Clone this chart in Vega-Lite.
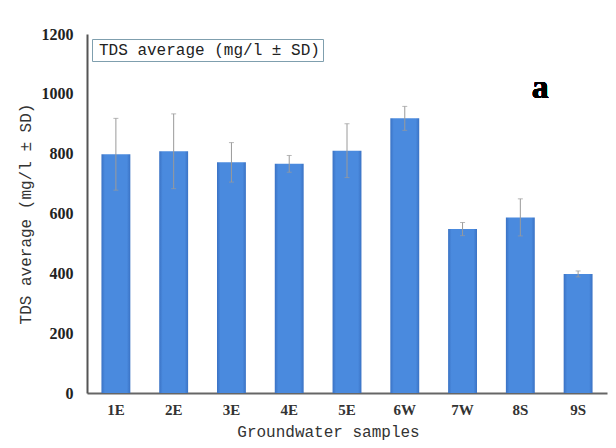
{
  "$schema": "https://vega.github.io/schema/vega-lite/v6.json",
  "width": 520,
  "height": 359,
  "autosize": "none",
  "padding": {"left": 87, "top": 34, "right": 9, "bottom": 55},
  "background": "#ffffff",
  "config": {
    "view": {"stroke": null},
    "axis": {"grid": false, "ticks": false}
  },
  "data": {
    "values": [
      {"sample": "1E", "tds": 798, "sd": 120},
      {"sample": "2E", "tds": 808, "sd": 125},
      {"sample": "3E", "tds": 771, "sd": 66},
      {"sample": "4E", "tds": 766, "sd": 28},
      {"sample": "5E", "tds": 810, "sd": 90},
      {"sample": "6W", "tds": 918, "sd": 40},
      {"sample": "7W", "tds": 548, "sd": 22},
      {"sample": "8S", "tds": 587, "sd": 62},
      {"sample": "9S", "tds": 398, "sd": 10}
    ]
  },
  "encoding": {
    "x": {
      "field": "sample",
      "type": "nominal",
      "sort": null,
      "scale": {"paddingInner": 0.5, "paddingOuter": 0.25},
      "axis": {
        "title": "Groundwater samples",
        "titleFont": "Liberation Mono",
        "titleFontSize": 16,
        "titleFontWeight": "normal",
        "titleColor": "#333333",
        "titlePadding": 6,
        "titleX": 241,
        "labelAngle": 0,
        "labelFont": "Liberation Serif",
        "labelFontWeight": "bold",
        "labelFontSize": 15,
        "labelColor": "#333333",
        "labelPadding": 9,
        "domainColor": "#666666",
        "domainWidth": 2
      }
    }
  },
  "layer": [
    {
      "mark": {
        "type": "bar",
        "color": {
          "gradient": "linear",
          "x1": 0, "x2": 1, "y1": 0, "y2": 0,
          "stops": [
            {"offset": 0, "color": "#3a72c4"},
            {"offset": 0.12, "color": "#4a8ade"},
            {"offset": 0.88, "color": "#4a8ade"},
            {"offset": 1, "color": "#3a72c4"}
          ]
        }
      },
      "encoding": {
        "y": {
          "field": "tds",
          "type": "quantitative",
          "title": "TDS average (mg/l ± SD)",
          "scale": {"domain": [0, 1200]},
          "axis": {
            "values": [0, 200, 400, 600, 800, 1000, 1200],
            "format": "d",
            "titleFont": "Liberation Mono",
            "titleFontSize": 16,
            "titleFontWeight": "normal",
            "titleColor": "#333333",
            "titlePadding": 8,
            "labelFont": "Liberation Serif",
            "labelFontWeight": "bold",
            "labelFontSize": 16,
            "labelColor": "#222222",
            "labelPadding": 14,
            "domainColor": "#555555",
            "domainWidth": 2
          }
        }
      }
    },
    {
      "mark": {"type": "errorbar", "ticks": {"size": 5}, "thickness": 1},
      "encoding": {
        "y": {"field": "tds", "type": "quantitative", "title": "TDS average (mg/l ± SD)"},
        "yError": {"field": "sd"},
        "color": {
          "datum": "TDS average (mg/l ± SD)",
          "scale": {"range": ["#9a9a9a"]},
          "legend": {
            "title": null,
            "orient": "top-left",
            "offset": 5,
            "symbolOpacity": 0,
            "symbolSize": 0,
            "symbolStrokeWidth": 0,
            "labelOffset": -12,
            "labelFont": "Liberation Mono",
            "labelFontSize": 16,
            "labelColor": "#222222",
            "labelLimit": 400,
            "padding": 3,
            "strokeColor": "#7f9fae",
            "fillColor": "#ffffff"
          }
        }
      }
    },
    {
      "mark": {
        "type": "text",
        "text": "a",
        "font": "Liberation Serif",
        "fontWeight": "bold",
        "fontSize": 34,
        "xOffset": 20,
        "color": "#000000"
      },
      "encoding": {
        "x": {"datum": "8S"},
        "y": {"datum": 1020}
      }
    }
  ]
}
